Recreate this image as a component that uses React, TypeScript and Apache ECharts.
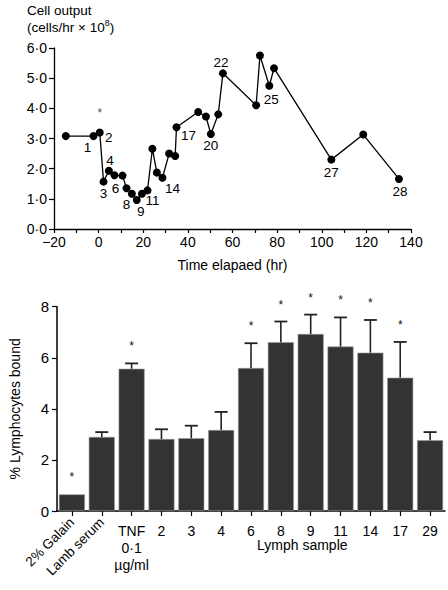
import React, { useEffect, useRef } from "react";
import * as echarts from "echarts";

// ---- Top chart data: cell output over time ----
const timeHr = [-14.7, -2.3, 0.5, 2.2, 4.6, 7.1, 10.7, 12.5, 14.9, 17.1, 19.4, 21.9, 24.1, 26.1, 28.6, 31.6, 34.3, 34.9, 44.6, 48.1, 50.3, 53.6, 55.7, 70.6, 72.3, 76.5, 78.6, 104.3, 118.6, 134.6];
const cellOutput = [3.08, 3.08, 3.2, 1.57, 1.93, 1.78, 1.77, 1.35, 1.17, 0.96, 1.17, 1.28, 2.66, 1.87, 1.7, 2.5, 2.42, 3.37, 3.88, 3.73, 3.15, 3.8, 5.16, 4.1, 5.75, 4.75, 5.33, 2.3, 3.13, 1.66];
const pointLabels = ["", "1", "2", "3", "4", "6", "", "8", "", "9", "", "11", "", "", "14", "", "", "17", "", "", "20", "", "22", "", "", "25", "", "27", "", "28"];
const starredPoint = 2;
const xTicks = [-20, 0, 20, 40, 60, 80, 100, 120, 140];
const yTicksTop = [0, 1, 2, 3, 4, 5, 6];

// ---- Bottom chart data: % lymphocytes bound ----
const sampleLabels = ["2% Galain", "Lamb serum", "TNF\n0·1\nµg/ml", "2", "3", "4", "6", "8", "9", "11", "14", "17", "29"];
const boundMean = [0.65, 2.9, 5.57, 2.82, 2.85, 3.17, 5.6, 6.61, 6.93, 6.44, 6.2, 5.22, 2.77];
const boundUpper = [0.65, 3.09, 5.78, 3.2, 3.34, 3.88, 6.57, 7.42, 7.69, 7.58, 7.48, 6.62, 3.09];
const significant = [1, 0, 1, 0, 0, 0, 1, 1, 1, 1, 1, 1, 0];
const yTicksBottom = [0, 2, 4, 6, 8];

// label offsets (pixels from point centre) – styling only
const labelOffsets: Record<string, [number, number]> = {
  "1": [-6, 11], "2": [9, 5], "3": [0, 12], "4": [1, -10], "6": [1, 13], "8": [0, 16],
  "9": [4, 11], "11": [5, 10], "14": [10, 11], "17": [12, 8], "20": [0, 12], "22": [-2, -11],
  "25": [2, 14], "27": [0, 13], "28": [1, 13],
};

const FONT = "'Liberation Sans', Arial, Helvetica, sans-serif";
const dotNum = (v: number, d: number) => v.toFixed(d).replace(".", "·");

export default function App() {
  const ref = useRef<HTMLDivElement>(null);
  useEffect(() => {
    document.body.style.margin = "0";
    const chart = echarts.init(ref.current!, null, { renderer: "svg" });

    const lineData = timeHr.map((t, i) => {
      const lab = pointLabels[i];
      const item: any = { value: [t, cellOutput[i]] };
      if (lab) {
        item.label = {
          show: true,
          formatter: lab,
          position: "inside",
          offset: labelOffsets[lab] || [0, 12],
          color: "#000",
          fontSize: 13.5,
          fontFamily: FONT,
        };
      }
      return item;
    });

    const errData = boundMean.map((m, i) => [i, m, boundUpper[i], significant[i]]);

    const option: any = {
      animation: false,
      textStyle: { fontFamily: FONT, color: "#000" },
      grid: [
        { left: 54, right: 37, top: 48, bottom: 361, containLabel: false },
        { left: 55, right: 3, top: 306.7, bottom: 79, containLabel: false },
      ],
      xAxis: [
        {
          type: "value",
          gridIndex: 0,
          min: xTicks[0],
          max: xTicks[xTicks.length - 1],
          interval: 10,
          name: "Time elapaed (hr)",
          nameLocation: "middle",
          nameGap: 29,
          nameTextStyle: { fontSize: 14, color: "#000", fontFamily: FONT },
          axisLine: { show: true, onZero: false, lineStyle: { color: "#000", width: 1.3 } },
          axisTick: { show: true, length: 4, lineStyle: { color: "#000", width: 1.2 } },
          axisLabel: {
            fontSize: 14,
            color: "#000",
            margin: 6,
            fontFamily: FONT,
            formatter: (v: number) => (xTicks.includes(v) ? (v < 0 ? "−" + Math.abs(v) : String(v)) : ""),
          },
          splitLine: { show: false },
        },
        {
          type: "category",
          gridIndex: 1,
          data: sampleLabels,
          axisLine: { show: true, onZero: false, lineStyle: { color: "#000", width: 1.5 } },
          axisTick: { show: true, alignWithLabel: true, length: 5, lineStyle: { color: "#000", width: 1.2 } },
          axisLabel: {
            interval: 0,
            fontSize: 14,
            color: "#000",
            margin: 11,
            lineHeight: 17,
            fontFamily: FONT,
            formatter: (v: string, i: number) => (i < 2 ? "" : v),
          },
          splitLine: { show: false },
        },
        {
          type: "category",
          gridIndex: 1,
          data: sampleLabels,
          position: "bottom",
          axisLine: { show: false },
          axisTick: { show: false },
          axisLabel: {
            interval: 0,
            rotate: 45,
            fontSize: 13.5,
            color: "#000",
            margin: 9,
            fontFamily: FONT,
            formatter: (v: string, i: number) => (i < 2 ? v : ""),
          },
          splitLine: { show: false },
        },
      ],
      yAxis: [
        {
          type: "value",
          gridIndex: 0,
          min: yTicksTop[0],
          max: yTicksTop[yTicksTop.length - 1],
          interval: 1,
          axisLine: { show: true, onZero: false, lineStyle: { color: "#000", width: 1.3 } },
          axisTick: { show: true, length: 5, lineStyle: { color: "#000", width: 1.2 } },
          axisLabel: { fontSize: 14, color: "#000", margin: 7, fontFamily: FONT, formatter: (v: number) => dotNum(v, 1) },
          splitLine: { show: false },
        },
        {
          type: "value",
          gridIndex: 1,
          min: yTicksBottom[0],
          max: yTicksBottom[yTicksBottom.length - 1],
          interval: 2,
          name: "% Lymphocytes bound",
          nameLocation: "middle",
          nameGap: 35,
          nameTextStyle: { fontSize: 14, color: "#000", fontFamily: FONT },
          axisLine: { show: true, onZero: false, lineStyle: { color: "#000", width: 1.5 } },
          axisTick: { show: true, length: 5, lineStyle: { color: "#000", width: 1.2 } },
          axisLabel: { fontSize: 15, color: "#000", margin: 8, fontFamily: FONT },
          splitLine: { show: false },
        },
      ],
      series: [
        {
          type: "line",
          xAxisIndex: 0,
          yAxisIndex: 0,
          data: lineData,
          symbol: "circle",
          symbolSize: 8,
          lineStyle: { color: "#000", width: 1.3 },
          itemStyle: { color: "#000" },
          label: { show: false },
        },
        {
          type: "scatter",
          xAxisIndex: 0,
          yAxisIndex: 0,
          data: [[timeHr[starredPoint], cellOutput[starredPoint]]],
          symbolSize: 1,
          itemStyle: { color: "rgba(0,0,0,0)" },
          label: { show: true, formatter: "*", position: "inside", offset: [0, -19], fontSize: 12, color: "#222", fontFamily: FONT },
        },
        {
          type: "bar",
          xAxisIndex: 1,
          yAxisIndex: 1,
          data: boundMean,
          barWidth: 26,
          itemStyle: { color: "#333333", borderColor: "#9a9a9a", borderWidth: 0.6 },
        },
        {
          type: "custom",
          xAxisIndex: 1,
          yAxisIndex: 1,
          data: errData,
          z: 5,
          itemStyle: { color: "#222" },
          renderItem: (params: any, api: any) => {
            const i = api.value(0);
            const m = api.value(1);
            const u = api.value(2);
            const s = api.value(3);
            const p0 = api.coord([i, m]);
            const p1 = api.coord([i, u]);
            const children: any[] = [];
            if (u > m) {
              children.push({
                type: "line",
                shape: { x1: p0[0], y1: p0[1], x2: p1[0], y2: p1[1] },
                style: { stroke: "#222", lineWidth: 1.6 },
              });
              children.push({
                type: "line",
                shape: { x1: p1[0] - 6.5, y1: p1[1], x2: p1[0] + 6.5, y2: p1[1] },
                style: { stroke: "#222", lineWidth: 1.8 },
              });
            }
            if (s) {
              children.push({
                type: "text",
                x: p1[0],
                y: p1[1] - 17,
                style: { text: "*", fontSize: 12, fill: "#111", align: "center", verticalAlign: "middle", fontFamily: FONT },
              });
            }
            return { type: "group", children };
          },
        },
      ],
      graphic: [
        {
          type: "text",
          left: 27,
          top: 3,
          style: { text: "Cell output", fontSize: 13.5, fill: "#000", fontFamily: FONT },
        },
        {
          type: "text",
          left: 27,
          top: 18,
          style: {
            text: "{a|(cells/hr × 10}{s|8}{a|)}",
            rich: {
              a: { fontSize: 13.5, fill: "#000", fontFamily: FONT, verticalAlign: "bottom" },
              s: { fontSize: 9, fill: "#000", fontFamily: FONT, padding: [0, 0, 7, 0], verticalAlign: "bottom" },
            },
          },
        },
        {
          type: "text",
          left: 257,
          top: 538,
          style: { text: "Lymph sample", fontSize: 14, fill: "#000", fontFamily: FONT },
        },
      ],
    };
    chart.setOption(option);
    return () => chart.dispose();
  }, []);
  return <div ref={ref} style={{ width: 448, height: 590 }} />;
}
